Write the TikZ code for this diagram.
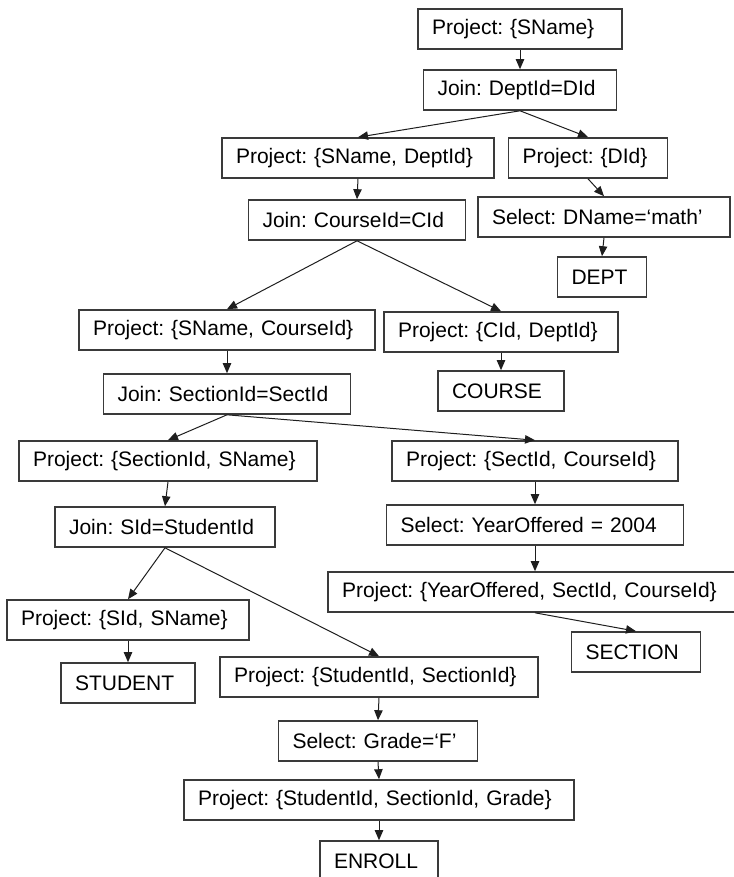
\documentclass[tikz,border=0pt]{standalone}
\usepackage{fontspec}
\setmainfont{Liberation Sans}
\frenchspacing
\usepackage{tikz}
\usetikzlibrary{arrows.meta}
\definecolor{rim}{HTML}{3A3A3A}
\definecolor{wire}{HTML}{1E1E1E}
\tikzset{
  op/.style={draw=rim, line width=0.8pt, fill=white, text width=#1, align=left, inner xsep=7pt, inner ysep=2pt, minimum height=20pt, font=\fontsize{10.5}{12.5}\selectfont},
  flow/.style={-{Triangle[length=5pt,width=4.2pt]}, line width=0.5pt, draw=wire},
}

\begin{document}
\begin{tikzpicture}[x=0.5pt,y=-0.5pt]
  \useasboundingbox (0,0) rectangle (733,877);
  % top of the plan and the DEPT branch
  \node[op=88pt](top) at (520,29){Project: \{SName\}};
  \node[op=82.5pt](jdept) at (520,90){Join: DeptId=DId};
  \node[op=122pt](psdept) at (358,158){Project: \{SName, DeptId\}};
  \node[op=65.5pt](pdid) at (588,158){Project: \{DId\}};
  \node[op=112pt](smath) at (604,217){Select: DName=`math'};
  \node[op=30.5pt](dept) at (602,277){DEPT};
  % COURSE branch
  \node[op=94.5pt](jcourse) at (357,220){Join: CourseId=CId};
  \node[op=134pt](pscourse) at (227,330){Project: \{SName, CourseId\}};
  \node[op=103pt](pcid) at (501,332){Project: \{CId, DeptId\}};
  \node[op=49pt](course) at (501,391){COURSE};
  % SECTION branch
  \node[op=109.5pt](jsect) at (227,394){Join: SectionId=SectId};
  \node[op=135pt](psectsn) at (168,461){Project: \{SectionId, SName\}};
  \node[op=129pt](psectcid) at (535,461){Project: \{SectId, CourseId\}};
  \node[op=134.5pt](syear) at (535,525){Select: YearOffered = 2004};
  \node[op=193pt](pyear) at (535,592){Project: \{YearOffered, SectId, CourseId\}};
  \node[op=50.5pt](section) at (636,652){SECTION};
  % STUDENT and ENROLL branch
  \node[op=96pt](jstud) at (165,527){Join: SId=StudentId};
  \node[op=107pt](psid) at (128,620){Project: \{SId, SName\}};
  \node[op=53pt](student) at (128,683){STUDENT};
  \node[op=145pt](pstudsec) at (379,677){Project: \{StudentId, SectionId\}};
  \node[op=85.5pt](sgrade) at (378,741){Select: Grade=`F'};
  \node[op=181pt](pgrade) at (379,800){Project: \{StudentId, SectionId, Grade\}};
  \node[op=45pt](enroll) at (379,861){ENROLL};
  \foreach \a/\b in {top/jdept,jdept/psdept,jdept/pdid,pdid/smath,smath/dept,
    psdept/jcourse,jcourse/pscourse,jcourse/pcid,pcid/course,
    pscourse/jsect,jsect/psectsn,jsect/psectcid,psectcid/syear,syear/pyear,pyear/section,
    psectsn/jstud,jstud/psid,jstud/pstudsec,psid/student,pstudsec/sgrade,sgrade/pgrade,pgrade/enroll}
    {\draw[flow](\a.south)--(\b.north);}
\end{tikzpicture}
\end{document}
